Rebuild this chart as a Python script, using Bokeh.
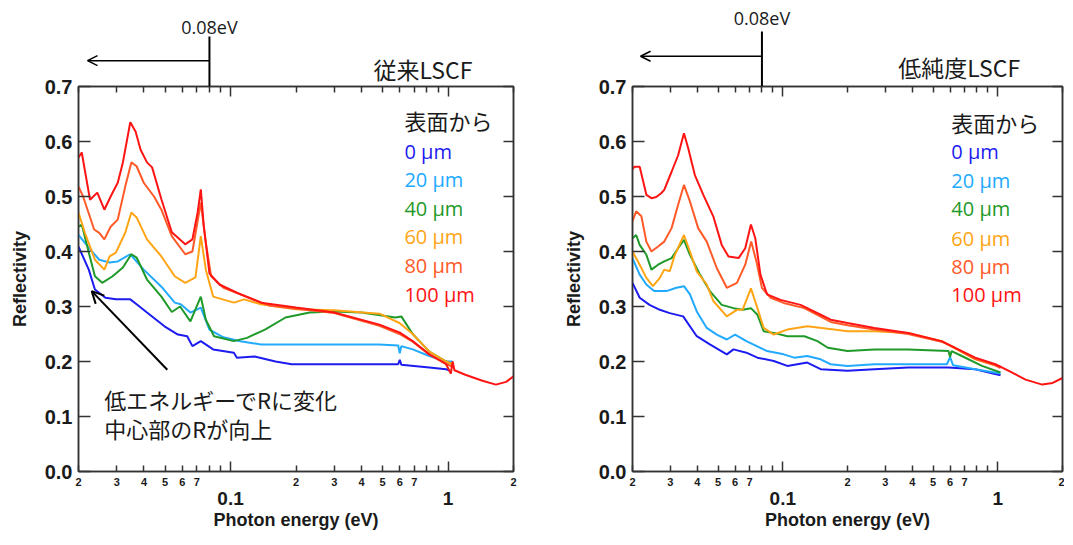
from bokeh.plotting import figure
from bokeh.models import Range1d, LogAxis, LinearAxis, FixedTicker, Label, Arrow, OpenHead, GridBox
from bokeh.embed import file_html
from bokeh.resources import INLINE

# ---------------- data ----------------
DEPTHS = ["0 µm", "20 µm", "40 µm", "60 µm", "80 µm", "100 µm"]
COLORS = ["#1c1cf0", "#22aaff", "#1f9a2a", "#ffa515", "#ff5a28", "#ff1414"]
TITLES = ["従来LSCF", "低純度LSCF"]
LEGEND_HEAD = "表面から"
NOTE_LINES = ["低エネルギーでRに変化", "中心部のRが向上"]
EV_MARK = 0.08
EV_LABEL = "0.08eV"

Y_TICKS = [0.0, 0.1, 0.2, 0.3, 0.4, 0.5, 0.6, 0.7]
Y_LABELS = ["0.0", "0.1", "0.2", "0.3", "0.4", "0.5", "0.6", "0.7"]
X_MAJOR = [0.1, 1.0]
X_MAJOR_LABELS = ["0.1", "1"]
X_MINOR = [0.02, 0.03, 0.04, 0.05, 0.06, 0.07, 0.08, 0.09,
           0.2, 0.3, 0.4, 0.5, 0.6, 0.7, 0.8, 0.9, 2.0]
X_DIGIT_TICKS = [0.02, 0.03, 0.04, 0.05, 0.06, 0.07,
                 0.2, 0.3, 0.4, 0.5, 0.6, 0.7, 2.0]
X_DIGIT_LABELS = ["2", "3", "4", "5", "6", "7",
                  "2", "3", "4", "5", "6", "7", "2"]

# left panel (従来LSCF)
L0_E = [0.02, 0.0223, 0.0238, 0.0266, 0.0297, 0.0346, 0.037, 0.0413, 0.0497, 0.0573, 0.0632,
        0.0668, 0.073, 0.0832, 0.1036, 0.107, 0.129, 0.161, 0.191, 0.33, 0.59, 0.6, 0.61,
        0.82, 0.98, 1.02]
L0_R = [0.409, 0.367, 0.331, 0.316, 0.313, 0.313, 0.304, 0.289, 0.264, 0.249, 0.246,
        0.228, 0.237, 0.222, 0.216, 0.207, 0.209, 0.200, 0.195, 0.195, 0.195, 0.203, 0.194,
        0.189, 0.186, 0.183]
L20_E = [0.02, 0.0223, 0.0249, 0.0278, 0.0303, 0.0346, 0.0399, 0.0481, 0.0554, 0.059, 0.0654,
         0.073, 0.08, 0.0928, 0.111, 0.138, 0.23, 0.48, 0.59, 0.6, 0.61, 0.688, 0.82, 0.98, 1.05]
L20_R = [0.430, 0.407, 0.385, 0.380, 0.382, 0.395, 0.367, 0.336, 0.307, 0.304, 0.289,
         0.298, 0.258, 0.244, 0.237, 0.231, 0.231, 0.231, 0.229, 0.215, 0.228, 0.222, 0.210, 0.200, 0.200]
L40_E = [0.02, 0.0207, 0.0223, 0.0238, 0.0257, 0.0287, 0.032, 0.035, 0.037, 0.0413, 0.0481,
         0.0537, 0.0586, 0.0654, 0.073, 0.077, 0.084, 0.1036, 0.119, 0.144, 0.179, 0.231,
         0.3, 0.4, 0.573, 0.61, 0.688, 0.82, 0.98, 1.05]
L40_R = [0.445, 0.449, 0.398, 0.355, 0.343, 0.355, 0.371, 0.395, 0.389, 0.349, 0.318,
         0.290, 0.300, 0.273, 0.318, 0.276, 0.246, 0.237, 0.243, 0.258, 0.280, 0.289,
         0.291, 0.289, 0.280, 0.282, 0.250, 0.218, 0.200, 0.195]
L60_E = [0.02, 0.0214, 0.0238, 0.0263, 0.0278, 0.0297, 0.0328, 0.035, 0.037, 0.0413, 0.0481,
         0.0554, 0.0619, 0.069, 0.073, 0.077, 0.0832, 0.1036, 0.1156, 0.138, 0.2, 0.3,
         0.484, 0.598, 0.688, 0.82, 0.98, 1.05]
L60_R = [0.471, 0.434, 0.385, 0.367, 0.391, 0.398, 0.434, 0.471, 0.462, 0.422, 0.391,
         0.355, 0.343, 0.353, 0.428, 0.367, 0.318, 0.307, 0.313, 0.304, 0.295, 0.293,
         0.287, 0.270, 0.250, 0.218, 0.200, 0.195]
L80_E = [0.02, 0.021, 0.0236, 0.0249, 0.0263, 0.0281, 0.0303, 0.0328, 0.035, 0.037, 0.0399,
         0.0445, 0.0481, 0.0537, 0.0619, 0.0668, 0.073, 0.077, 0.0814, 0.0928, 0.111, 0.15,
         0.2, 0.3, 0.484, 0.598, 0.688, 0.82, 0.98, 1.05]
L80_R = [0.518, 0.500, 0.440, 0.434, 0.422, 0.445, 0.458, 0.518, 0.562, 0.555, 0.525,
         0.500, 0.476, 0.428, 0.395, 0.400, 0.489, 0.416, 0.355, 0.334, 0.322, 0.302,
         0.296, 0.288, 0.265, 0.250, 0.236, 0.213, 0.196, 0.190]
L100_E = [0.02, 0.0207, 0.0226, 0.0244, 0.0263, 0.0281, 0.0303, 0.032, 0.0346, 0.0366, 0.0386,
          0.0413, 0.0436, 0.0481, 0.0537, 0.0619, 0.0668, 0.0706, 0.073, 0.0754, 0.08, 0.0889,
          0.107, 0.138, 0.2, 0.3, 0.484, 0.598, 0.688, 0.82, 0.98, 1.03, 1.05, 1.07, 1.2,
          1.44, 1.66, 1.85, 2.0]
L100_R = [0.571, 0.580, 0.494, 0.507, 0.476, 0.500, 0.525, 0.562, 0.635, 0.618, 0.585,
          0.562, 0.553, 0.495, 0.435, 0.413, 0.422, 0.471, 0.513, 0.445, 0.360, 0.340,
          0.325, 0.307, 0.298, 0.289, 0.267, 0.253, 0.237, 0.213, 0.195, 0.178, 0.200, 0.184,
          0.176, 0.165, 0.158, 0.163, 0.173]

# right panel (低純度LSCF)
R0_E = [0.02, 0.0216, 0.024, 0.0268, 0.0298, 0.0344, 0.0398, 0.0458, 0.0549, 0.059, 0.0677,
        0.0762, 0.0908, 0.105, 0.13, 0.15, 0.2, 0.267, 0.383, 0.59, 0.785, 1.03]
R0_R = [0.343, 0.316, 0.303, 0.294, 0.288, 0.282, 0.246, 0.231, 0.213, 0.222, 0.216,
        0.207, 0.201, 0.192, 0.198, 0.186, 0.183, 0.186, 0.189, 0.189, 0.186, 0.175]
R20_E = [0.02, 0.0216, 0.0232, 0.0252, 0.0288, 0.032, 0.0347, 0.037, 0.0398, 0.0443, 0.0493,
         0.0549, 0.06, 0.0677, 0.0845, 0.101, 0.113, 0.13, 0.15, 0.167, 0.2, 0.267, 0.383,
         0.58, 0.6, 0.62, 0.785, 1.03]
R20_R = [0.388, 0.358, 0.340, 0.328, 0.328, 0.334, 0.337, 0.322, 0.291, 0.261, 0.249,
         0.240, 0.249, 0.237, 0.219, 0.213, 0.207, 0.210, 0.204, 0.195, 0.192, 0.195, 0.195,
         0.195, 0.208, 0.193, 0.186, 0.178]
R40_E = [0.02, 0.0208, 0.0216, 0.0232, 0.0245, 0.0263, 0.0281, 0.0304, 0.0326, 0.0347, 0.037,
         0.0412, 0.0458, 0.052, 0.059, 0.065, 0.0711, 0.0762, 0.0815, 0.0908, 0.105, 0.126,
         0.145, 0.162, 0.2, 0.267, 0.383, 0.59, 0.6, 0.61, 0.68, 0.844, 1.03]
R40_R = [0.424, 0.430, 0.412, 0.394, 0.367, 0.376, 0.382, 0.388, 0.406, 0.421, 0.394,
         0.358, 0.328, 0.303, 0.297, 0.294, 0.297, 0.285, 0.255, 0.252, 0.246, 0.246,
         0.237, 0.225, 0.219, 0.222, 0.222, 0.219, 0.208, 0.219, 0.210, 0.192, 0.180]
R60_E = [0.02, 0.0216, 0.0232, 0.0249, 0.0268, 0.0281, 0.0298, 0.0315, 0.0347, 0.037, 0.0398,
         0.0443, 0.0475, 0.0549, 0.0612, 0.065, 0.0711, 0.0762, 0.0815, 0.0908, 0.105, 0.13,
         0.173, 0.2, 0.267, 0.383, 0.548, 0.785, 1.03]
R60_R = [0.400, 0.376, 0.352, 0.337, 0.352, 0.367, 0.364, 0.394, 0.430, 0.400, 0.364,
         0.340, 0.310, 0.282, 0.294, 0.294, 0.333, 0.297, 0.261, 0.249, 0.258, 0.264,
         0.258, 0.255, 0.255, 0.252, 0.237, 0.204, 0.190]
R80_E = [0.02, 0.0208, 0.022, 0.0232, 0.0245, 0.0263, 0.0281, 0.0304, 0.0326, 0.0347, 0.037,
         0.0404, 0.0443, 0.0493, 0.0549, 0.0612, 0.0669, 0.0713, 0.0754, 0.08, 0.0877, 0.101,
         0.126, 0.167, 0.2, 0.267, 0.383, 0.548, 0.61, 0.785, 0.975, 1.03]
R80_R = [0.455, 0.473, 0.464, 0.418, 0.400, 0.409, 0.418, 0.4425, 0.485, 0.521, 0.491,
         0.4425, 0.418, 0.370, 0.334, 0.343, 0.376, 0.418, 0.382, 0.334, 0.316, 0.3065,
         0.297, 0.272, 0.266, 0.258, 0.250, 0.236, 0.228, 0.205, 0.193, 0.188]
R100_E = [0.02, 0.0204, 0.0216, 0.0232, 0.0245, 0.0258, 0.0272, 0.0281, 0.0304, 0.0326, 0.0347,
          0.0363, 0.039, 0.0427, 0.0475, 0.052, 0.0559, 0.0623, 0.0669, 0.0711, 0.0745, 0.0787,
          0.0845, 0.0976, 0.121, 0.15, 0.167, 0.2, 0.267, 0.383, 0.548, 0.61, 0.785, 0.975,
          1.126, 1.346, 1.61, 1.80, 2.0]
R100_R = [0.550, 0.554, 0.554, 0.503, 0.497, 0.499, 0.506, 0.512, 0.545, 0.575, 0.615,
          0.588, 0.539, 0.503, 0.464, 0.412, 0.391, 0.388, 0.406, 0.449, 0.424, 0.358,
          0.322, 0.312, 0.303, 0.285, 0.276, 0.270, 0.261, 0.252, 0.237, 0.228, 0.207, 0.195,
          0.183, 0.167, 0.158, 0.161, 0.170]

LEFT_SERIES = [(L0_E, L0_R), (L20_E, L20_R), (L40_E, L40_R),
               (L60_E, L60_R), (L80_E, L80_R), (L100_E, L100_R)]
RIGHT_SERIES = [(R0_E, R0_R), (R20_E, R20_R), (R40_E, R40_R),
                (R60_E, R60_R), (R80_E, R80_R), (R100_E, R100_R)]

# ---------------- styling ----------------
AX_FONT = "Liberation Sans"
CJK = "Noto Sans CJK JP"
LAT = "Open Sans"
INK = "#1a1a1a"
FRAME = "#333333"
PX_PER_UNIT = 550.0       # vertical pixels per reflectivity unit
FRAME_H = 385
TOP_B = 86                # space above the frame


def tick_only(axis):
    axis.major_label_text_font_size = "1px"
    axis.major_label_text_color = None
    axis.major_label_standoff = 0
    return axis


def make_panel(series, title, lay, note=False):
    xr = Range1d(0.02, 2.0)
    t = lay["txt"]

    # transparent overlay whose frame is the strip above the plot frame;
    # it shares the grid cell with the plot and is shifted up by TOP_B
    hdr = figure(x_axis_type="log", x_range=xr,
                 y_range=Range1d(0.7, 0.7 + TOP_B / PX_PER_UNIT),
                 frame_width=lay["fw"], frame_height=TOP_B,
                 min_border_left=lay["bl"], min_border_right=lay["br"],
                 min_border_top=TOP_B, min_border_bottom=0,
                 x_axis_location=None, y_axis_location=None,
                 toolbar_location=None, output_backend="svg",
                 styles={"transform": "translateY(-%dpx)" % TOP_B})
    hdr.grid.visible = False
    hdr.outline_line_color = None
    hdr.background_fill_color = None
    hdr.border_fill_color = None
    hdr.add_layout(Arrow(end=None, x_start=EV_MARK, y_start=0.7, x_end=EV_MARK,
                         y_end=t["vtop"], line_color="black", line_width=2))
    hdr.add_layout(Arrow(end=OpenHead(size=10, line_width=1.5, line_color="black"),
                         x_start=EV_MARK, y_start=t["arr"], x_end=t["arr_end"], y_end=t["arr"],
                         line_color="black", line_width=1.5))
    hdr.add_layout(Label(x=EV_MARK, y=t["evy"], text=EV_LABEL, text_align="center",
                         text_baseline="middle", text_font=LAT, text_font_size="18px",
                         text_color=INK))
    hdr.add_layout(Label(x=t["tx"], y=t["ty"], text=title, text_align="left",
                         text_baseline="middle", text_font=CJK, text_font_size="23px",
                         text_color=INK))

    p = figure(x_axis_type="log", x_range=xr, y_range=Range1d(0.0, 0.7),
               frame_width=lay["fw"], frame_height=FRAME_H,
               min_border_left=lay["bl"], min_border_right=lay["br"],
               min_border_top=TOP_B, min_border_bottom=lay["bb"],
               x_axis_location=None, y_axis_location=None,
               toolbar_location=None, output_backend="svg")
    p.grid.visible = False
    p.outline_line_color = FRAME
    p.outline_line_width = 1.5

    # bottom: tick marks
    ax_t = tick_only(LogAxis(ticker=FixedTicker(ticks=X_MAJOR, minor_ticks=X_MINOR),
                     major_tick_in=10, major_tick_out=0, minor_tick_in=6, minor_tick_out=0,
                     axis_line_color=FRAME, axis_line_width=1.5,
                     major_tick_line_color=FRAME, major_tick_line_width=1.5,
                     minor_tick_line_color=FRAME, minor_tick_line_width=1.5))
    p.add_layout(ax_t, "below")
    # bottom: small digit labels
    ax_d = LogAxis(ticker=FixedTicker(ticks=X_DIGIT_TICKS, minor_ticks=[]),
                   major_label_overrides=dict(zip(X_DIGIT_TICKS, X_DIGIT_LABELS)),
                   major_tick_in=0, major_tick_out=0, axis_line_color=None,
                   major_tick_line_color=None, minor_tick_line_color=None,
                   major_label_text_font=AX_FONT, major_label_text_font_size="11px",
                   major_label_text_font_style="bold", major_label_text_color=INK,
                   major_label_standoff=6)
    p.add_layout(ax_d, "below")
    # bottom: decade labels + axis title
    ax_m = LogAxis(ticker=FixedTicker(ticks=X_MAJOR, minor_ticks=[]),
                   major_label_overrides=dict(zip(X_MAJOR, X_MAJOR_LABELS)),
                   major_tick_in=0, major_tick_out=0, axis_line_color=None,
                   major_tick_line_color=None, minor_tick_line_color=None,
                   major_label_text_font=AX_FONT, major_label_text_font_size="19px",
                   major_label_text_font_style="bold", major_label_text_color=INK,
                   major_label_standoff=3,
                   axis_label="Photon energy (eV)", axis_label_standoff=2,
                   axis_label_text_font=AX_FONT, axis_label_text_font_size="18px",
                   axis_label_text_font_style="bold", axis_label_text_color=INK)
    p.add_layout(ax_m, "below")
    # top ticks
    ax_top = tick_only(LogAxis(ticker=FixedTicker(ticks=X_MAJOR, minor_ticks=X_MINOR),
                       major_tick_in=10, major_tick_out=0, minor_tick_in=6, minor_tick_out=0,
                       axis_line_color=FRAME, axis_line_width=1.5,
                       major_tick_line_color=FRAME, major_tick_line_width=1.5,
                       minor_tick_line_color=FRAME, minor_tick_line_width=1.5))
    p.add_layout(ax_top, "above")
    # left axis
    ax_l = LinearAxis(ticker=FixedTicker(ticks=Y_TICKS, minor_ticks=[]),
                      major_label_overrides=dict(zip(Y_TICKS, Y_LABELS)),
                      major_tick_in=12, major_tick_out=0,
                      axis_line_color=FRAME, axis_line_width=1.5,
                      major_tick_line_color=FRAME, major_tick_line_width=1.5,
                      major_label_text_font=AX_FONT, major_label_text_font_size="20px",
                      major_label_text_font_style="bold", major_label_text_color=INK,
                      major_label_standoff=6,
                      axis_label="Reflectivity", axis_label_standoff=12,
                      axis_label_text_font=AX_FONT, axis_label_text_font_size="18px",
                      axis_label_text_font_style="bold", axis_label_text_color=INK)
    p.add_layout(ax_l, "left")
    # right ticks
    ax_r = tick_only(LinearAxis(ticker=FixedTicker(ticks=Y_TICKS, minor_ticks=[]),
                     major_tick_in=10, major_tick_out=0,
                     axis_line_color=FRAME, axis_line_width=1.5,
                     major_tick_line_color=FRAME, major_tick_line_width=1.5))
    p.add_layout(ax_r, "right")

    for (e, r), c in zip(series, COLORS):
        p.line(e, r, line_color=c, line_width=2)

    p.add_layout(Label(x=t["lx"], y=t["ly"][0], text=LEGEND_HEAD, text_align="left",
                       text_baseline="middle", text_font=CJK, text_font_size="22px",
                       text_color=INK))
    for name, c, yy in zip(DEPTHS, COLORS, t["ly"][1:]):
        p.add_layout(Label(x=t["lx"], y=yy, text=name, text_align="left",
                           text_baseline="middle", text_font=LAT, text_font_size="20px",
                           text_color=c))
    if note:
        p.add_layout(Arrow(end=OpenHead(size=12, line_width=2, line_color="black"),
                           x_start=0.0512, y_start=0.185, x_end=0.023, y_end=0.328,
                           line_color="black", line_width=2))
        for line_txt, yy in zip(NOTE_LINES, [0.131, 0.080]):
            p.add_layout(Label(x=0.0263, y=yy, text=line_txt, text_align="left",
                               text_baseline="middle", text_font=CJK,
                               text_font_size="22px", text_color=INK))
    return p, hdr


left_layout = dict(fw=435, bl=78, br=30, bb=62,
                   txt=dict(vtop=0.791, arr=0.747, arr_end=0.022, evy=0.809,
                            tx=0.454, ty=0.731, lx=0.63,
                            ly=[0.640, 0.582, 0.531, 0.479, 0.428, 0.375, 0.322]))
right_layout = dict(fw=430, bl=89, br=2, bb=62,
                    txt=dict(vtop=0.80, arr=0.755, arr_end=0.0218, evy=0.824,
                             tx=0.344, ty=0.736, lx=0.608,
                             ly=[0.636, 0.581, 0.530, 0.478, 0.424, 0.372, 0.321]))

p1, h1 = make_panel(LEFT_SERIES, TITLES[0], left_layout, note=True)
p2, h2 = make_panel(RIGHT_SERIES, TITLES[1], right_layout)

page = GridBox(children=[(p1, 0, 0), (h1, 0, 0), (p2, 0, 1), (h2, 0, 1)])
open("out.html", "w").write(file_html(page, INLINE))
